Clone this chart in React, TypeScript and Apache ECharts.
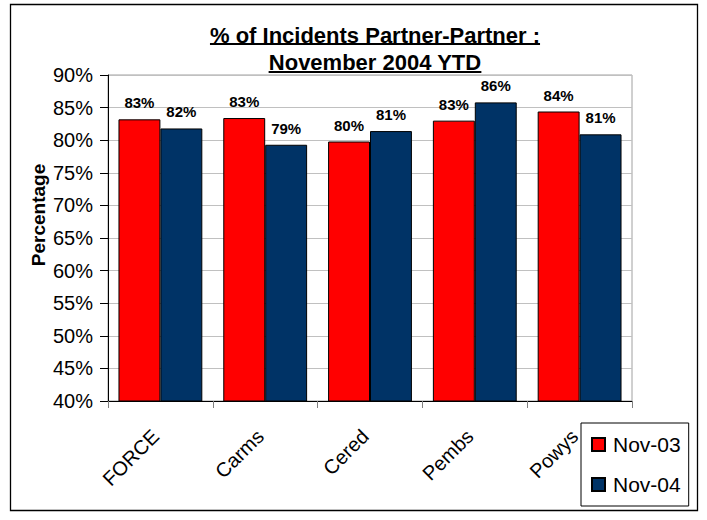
import React, { useEffect, useRef } from "react";
import * as echarts from "echarts";

const categories = ["FORCE", "Carms", "Cered", "Pembs", "Powys"];
const nov03 = [83.2, 83.4, 79.8, 83.0, 84.4];
const nov04 = [81.8, 79.3, 81.4, 85.8, 80.9];
const seriesNames = ["Nov-03", "Nov-04"];
const titleLines = ["% of Incidents Partner-Partner :", "November 2004 YTD"];
const yAxisName = "Percentage";
const yMin = 40;
const yMax = 90;
const yStep = 5;

const FONT = "'Liberation Sans', Arial, sans-serif";

function measure(text: string, font: string): number {
  const c = document.createElement("canvas");
  const ctx = c.getContext("2d");
  if (!ctx) return text.length * 10;
  ctx.font = font;
  return ctx.measureText(text).width;
}

export default function App() {
  const ref = useRef<HTMLDivElement>(null);
  useEffect(() => {
    if (!ref.current) return;
    const chart = echarts.init(ref.current, undefined, { renderer: "svg" });
    const titleSize = 22;
    const titleCx = 375;
    const titleY = [35, 62];
    const w1 = measure(titleLines[0], `bold ${titleSize}px Liberation Sans`);
    const w2 = measure(titleLines[1], `bold ${titleSize}px Liberation Sans`);
    const widths = [w1, w2];
    const underlineY = [44, 72];

    const graphics: any[] = [
      {
        type: "rect",
        shape: { x: 10.5, y: 4.5, width: 687, height: 506 },
        style: { fill: "none", stroke: "#000", lineWidth: 1.3 },
        z: 0,
        silent: true,
      },
      {
        type: "text",
        x: 38,
        y: 215,
        rotation: Math.PI / 2,
        style: {
          text: yAxisName,
          font: `bold 19px ${FONT}`,
          fill: "#000",
          align: "center",
          verticalAlign: "middle",
        },
      },
    ];
    titleLines.forEach((t, i) => {
      graphics.push({
        type: "text",
        x: titleCx,
        y: titleY[i],
        style: {
          text: t,
          font: `bold ${titleSize}px ${FONT}`,
          fill: "#000",
          align: "center",
          verticalAlign: "middle",
        },
      });
      graphics.push({
        type: "line",
        shape: {
          x1: titleCx - widths[i] / 2,
          y1: underlineY[i],
          x2: titleCx + widths[i] / 2,
          y2: underlineY[i],
        },
        style: { stroke: "#000", lineWidth: 2 },
      });
    });

    const labelCfg = {
      show: true,
      position: "top",
      distance: 9,
      color: "#000",
      fontFamily: FONT,
      fontWeight: "bold",
      fontSize: 15,
      formatter: (p: any) => Math.round(p.value) + "%",
    };

    chart.setOption({
      animation: false,
      backgroundColor: "#fff",
      textStyle: { fontFamily: FONT },
      grid: {
        left: 108,
        right: 75,
        top: 75,
        bottom: 119,
        show: true,
        borderColor: "#a0a0a0",
        borderWidth: 1,
        backgroundColor: "transparent",
      },
      legend: {
        orient: "vertical",
        left: 581,
        top: 423,
        padding: [11, 8, 11, 10],
        itemGap: 19,
        itemWidth: 13,
        itemHeight: 13,
        icon: "rect",
        borderColor: "#000",
        borderWidth: 1,
        backgroundColor: "#fff",
        textStyle: {
          fontSize: 21,
          color: "#000",
          fontFamily: FONT,
          padding: [0, 0, 0, 3],
        },
        data: seriesNames,
      },
      xAxis: {
        type: "category",
        data: categories,
        axisLine: { lineStyle: { color: "#000", width: 1 } },
        axisTick: { show: true, length: 7, lineStyle: { color: "#808080" } },
        axisLabel: {
          rotate: 45,
          margin: 27,
          padding: [0, 7, 0, 0],
          fontSize: 20,
          color: "#000",
          fontFamily: FONT,
        },
      },
      yAxis: {
        type: "value",
        min: yMin,
        max: yMax,
        interval: yStep,
        axisLine: { show: true, lineStyle: { color: "#000", width: 1 } },
        axisTick: { show: true, length: 8, lineStyle: { color: "#000" } },
        axisLabel: {
          formatter: "{value}%",
          fontSize: 20,
          color: "#000",
          margin: 15,
          fontFamily: FONT,
        },
        splitLine: { show: true, lineStyle: { color: "#c0c0c0", width: 1 } },
      },
      series: [
        {
          name: seriesNames[0],
          type: "bar",
          data: nov03,
          barGap: "0%",
          barCategoryGap: "20%",
          itemStyle: { color: "#ff0000", borderColor: "#000", borderWidth: 1 },
          label: labelCfg,
        },
        {
          name: seriesNames[1],
          type: "bar",
          data: nov04,
          barGap: "0%",
          barCategoryGap: "20%",
          itemStyle: { color: "#003366", borderColor: "#000", borderWidth: 1 },
          label: labelCfg,
        },
      ],
      graphic: graphics,
    });
    return () => chart.dispose();
  }, []);
  return (
    <div
      ref={ref}
      style={{ position: "fixed", left: 0, top: 0, width: 707, height: 520 }}
    />
  );
}
